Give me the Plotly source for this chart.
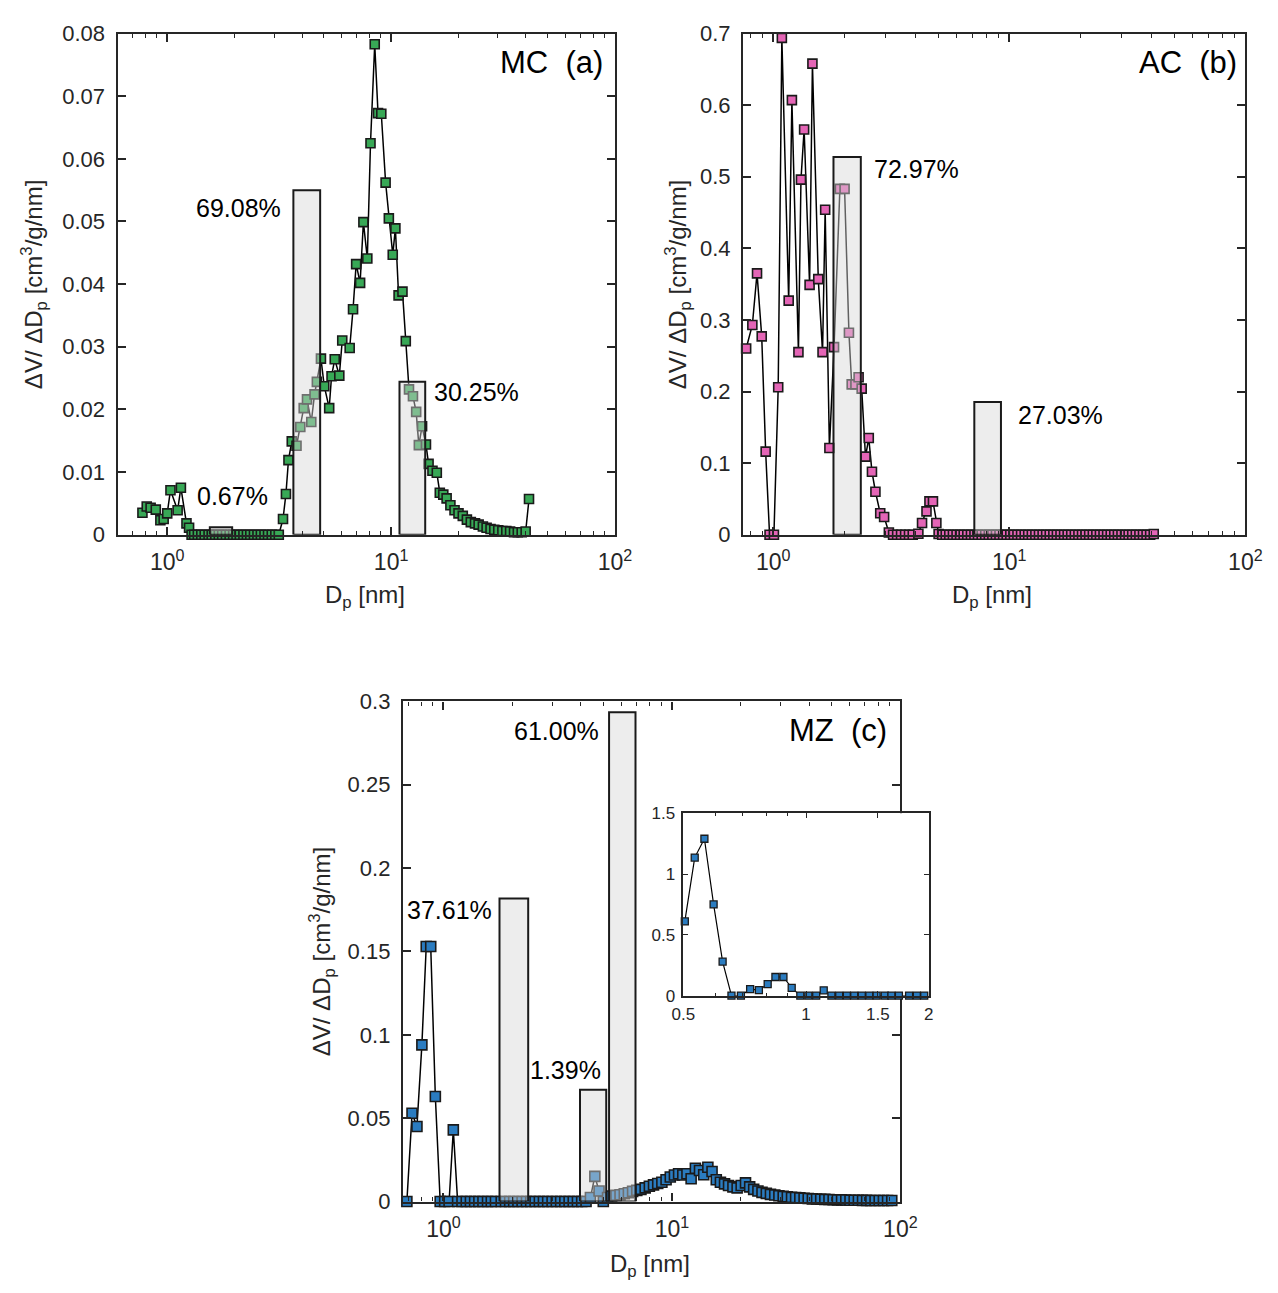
import math
import plotly.graph_objects as go

W, H = 1278, 1293

# ---------------- data ----------------
# MC (a)
mc_dp = [0.775, 0.81, 0.843, 0.889, 0.932, 0.964, 1.0, 1.034, 1.113, 1.151, 1.219, 1.252, 1.285,
         1.32, 1.37, 1.42, 1.47, 1.53, 1.58, 1.64, 1.70, 1.76, 1.83,
         1.90, 1.97, 2.04, 2.11, 2.19, 2.27, 2.35, 2.44, 2.53, 2.62,
         2.72, 2.82, 2.93, 3.04, 3.15,
         3.29, 3.39, 3.48, 3.60, 3.78, 3.93, 4.07, 4.21, 4.40, 4.55,
         4.66, 4.86, 5.03, 5.29, 5.42, 5.60, 5.87, 6.05, 6.53, 6.76,
         6.98, 7.27, 7.52, 7.83, 8.09, 8.45, 8.74, 9.04, 9.45, 9.77,
         10.17, 10.45, 10.8, 11.24, 11.63, 12.02, 12.52, 12.94, 13.3, 13.75,
         14.31, 14.7, 15.3, 16.0, 16.5, 17.1, 17.7, 18.4, 19.2, 20.0,
         20.9, 21.8, 22.7, 23.7, 24.6, 25.7, 26.7, 27.8, 28.9, 30.1,
         31.4, 32.7, 34.0, 35.4, 36.8, 38.3, 39.9, 41.3]
mc_dv = [0.0035, 0.0045, 0.0043, 0.0040, 0.0023, 0.0025, 0.0034, 0.0071, 0.0039, 0.0075, 0.0018, 0.0011, 0.0,
         0.0, 0.0, 0.0, 0.0, 0.0, 0.0, 0.0, 0.0, 0.0, 0.0,
         0.0, 0.0, 0.0, 0.0, 0.0, 0.0, 0.0, 0.0, 0.0, 0.0,
         0.0, 0.0, 0.0, 0.0, 0.0,
         0.0025, 0.0065, 0.0119, 0.0149, 0.0142, 0.0172, 0.0202, 0.0216, 0.0180, 0.0224,
         0.0244, 0.0281, 0.0237, 0.0202, 0.0253, 0.0280, 0.0254, 0.0310, 0.0298, 0.0360,
         0.0432, 0.0402, 0.0499, 0.0441, 0.0625, 0.0783, 0.0673, 0.0672, 0.0562, 0.0505,
         0.0447, 0.0489, 0.0382, 0.0388, 0.0309, 0.0232, 0.0221, 0.0196, 0.0143, 0.0173,
         0.0144, 0.0113, 0.0102, 0.0099, 0.0067, 0.0064, 0.0058, 0.0047, 0.0039, 0.0034,
         0.0030, 0.0024, 0.0020, 0.0018, 0.0016, 0.0013, 0.0011, 0.0009, 0.0008, 0.0007,
         0.0006, 0.0006, 0.0005, 0.0004, 0.0004, 0.0004, 0.0005, 0.0057]
mc_bar_left = [1.55, 3.66, 10.9]
mc_bar_right = [1.95, 4.82, 14.2]
mc_bar_height = [0.0012, 0.055, 0.0244]
mc_bar_labels = ["0.67%", "69.08%", "30.25%"]

# AC (b)
ac_dp = [0.768, 0.816, 0.854, 0.894, 0.929, 0.965, 1.007, 1.05, 1.088, 1.163,
         1.20, 1.279, 1.311, 1.352, 1.426, 1.466, 1.552, 1.618, 1.66, 1.73,
         1.81, 1.916, 2.006, 2.093, 2.15, 2.23, 2.30, 2.37, 2.46, 2.54,
         2.62, 2.71, 2.84, 2.95, 3.09,
         3.22, 3.35, 3.48, 3.62, 3.76, 3.90,
         4.12, 4.27, 4.46, 4.59, 4.75, 4.91, 5.02,
         5.2, 5.38, 5.57, 5.77, 5.98, 6.19, 6.41, 6.64, 6.88, 7.12,
         7.37, 7.64, 7.91, 8.19, 8.48, 8.78, 9.09, 9.42, 9.75, 10.1,
         10.46, 10.83, 11.22, 11.62, 12.03, 12.46, 12.9, 13.36, 13.84, 14.33,
         14.84, 15.37, 15.91, 16.48, 17.07, 17.67, 18.3, 18.95, 19.63, 20.33,
         21.05, 21.8, 22.58, 23.38, 24.21, 25.07, 25.97, 26.89, 27.85, 28.84,
         29.87, 30.93, 32.03, 33.17, 34.35, 35.58, 36.84, 38.16, 39.51, 40.92]
ac_dv = [0.260, 0.293, 0.365, 0.277, 0.116, 0.0, 0.0, 0.206, 0.694, 0.327,
         0.607, 0.255, 0.496, 0.566, 0.349, 0.658, 0.357, 0.255, 0.454, 0.121,
         0.262, 0.483, 0.483, 0.282, 0.210, 0.210, 0.220, 0.204, 0.109, 0.135,
         0.088, 0.060, 0.030, 0.0247, 0.003,
         0.0, 0.0, 0.0, 0.0, 0.0, 0.0,
         0.0014, 0.0163, 0.0326, 0.0465, 0.0465, 0.0163, 0.001,
         0.0, 0.0, 0.0, 0.0, 0.0, 0.0, 0.0, 0.0, 0.0, 0.0,
         0.0, 0.0, 0.0, 0.0, 0.0, 0.0, 0.0, 0.0, 0.0, 0.0,
         0.0, 0.0, 0.0, 0.0, 0.0, 0.0, 0.0, 0.0, 0.0, 0.0,
         0.0, 0.0, 0.0, 0.0, 0.0, 0.0, 0.0, 0.0, 0.0, 0.0,
         0.0, 0.0, 0.0, 0.0, 0.0, 0.0, 0.0, 0.0, 0.0, 0.0,
         0.0, 0.0, 0.0, 0.0, 0.0, 0.0, 0.0, 0.0, 0.0, 0.001]
ac_bar_left = [1.80, 7.11]
ac_bar_right = [2.35, 9.22]
ac_bar_height = [0.5275, 0.1855]
ac_bar_labels = ["72.97%", "27.03%"]

# MZ (c)
mz_dp = [0.504, 0.533, 0.563, 0.593, 0.624, 0.656, 0.692, 0.729, 0.766, 0.805,
         0.841, 0.880, 0.922, 0.968, 1.013, 1.059, 1.105,
         1.154, 1.206, 1.259, 1.313, 1.37, 1.43, 1.49, 1.56, 1.62, 1.69,
         1.79, 1.87, 1.95, 2.03, 2.12, 2.21, 2.31, 2.41, 2.52, 2.63,
         2.74, 2.86, 2.99, 3.12, 3.26, 3.40, 3.55, 3.70, 3.86, 4.03,
         4.21,
         4.40, 4.60, 4.80, 5.01, 5.23, 5.45, 5.69, 5.93, 6.19, 6.45,
         6.73, 7.02, 7.32, 7.64, 7.97, 8.31, 8.67, 9.04, 9.43, 9.84,
         10.26, 10.7, 11.16, 11.64, 12.14, 12.67, 13.21, 13.78, 14.37, 14.99,
         15.64, 16.31, 17.0, 17.7, 18.5, 19.3, 20.1, 21.0, 21.9, 22.8,
         23.8, 24.8, 25.9, 27.0, 28.2, 29.4, 30.7, 32.0, 33.4, 34.8,
         36.3, 37.9, 39.5, 41.2, 43.0, 44.8, 46.7, 48.7, 50.8, 53.0,
         55.3, 57.7, 60.2, 62.8, 65.5, 68.3, 71.2, 74.3, 77.5, 80.8,
         84.3, 87.9, 91.7]
mz_dv = [0.61, 1.135, 1.29, 0.75, 0.28, 0.0, 0.0, 0.053, 0.045, 0.094,
         0.153, 0.153, 0.063, 0.0, 0.0, 0.0, 0.043,
         0.0, 0.0, 0.0, 0.0, 0.0, 0.0, 0.0, 0.0, 0.0, 0.0,
         0.0, 0.0, 0.0, 0.0, 0.0, 0.0, 0.0, 0.0, 0.0, 0.0,
         0.0, 0.0, 0.0, 0.0, 0.0, 0.0, 0.0, 0.0, 0.0, 0.0,
         0.0,
         0.0024, 0.0151, 0.0063, 0.0, 0.0024, 0.0033, 0.0037, 0.0041, 0.0047, 0.0053,
         0.0061, 0.0067, 0.0073, 0.0082, 0.0092, 0.0100, 0.0108, 0.0116, 0.0131, 0.0147,
         0.0159, 0.0167, 0.0159, 0.0167, 0.0137, 0.0200, 0.0186, 0.0161, 0.0206, 0.0180,
         0.0131, 0.0116, 0.0106, 0.0096, 0.0088, 0.0082, 0.0096, 0.0112, 0.0088, 0.0073,
         0.0063, 0.0055, 0.0049, 0.0043, 0.0039, 0.0035, 0.0031, 0.0029, 0.0025, 0.0024,
         0.0022, 0.0020, 0.0018, 0.0016, 0.0015, 0.0014, 0.0013, 0.0012, 0.0011, 0.0010,
         0.0010, 0.0009, 0.0008, 0.0008, 0.0008, 0.0007, 0.0007, 0.0006, 0.0006, 0.0006,
         0.0006, 0.0006, 0.0006]
mz_bar_left = [1.76, 3.96, 5.31]
mz_bar_right = [2.35, 5.16, 6.93]
mz_bar_height = [0.1818, 0.067, 0.2935]
mz_bar_labels = ["37.61%", "1.39%", "61.00%"]

# ticks
log_major = [1, 10, 100]
log_major_text = ["10<sup>0</sup>", "10<sup>1</sup>", "10<sup>2</sup>"]
log_minor = [0.6, 0.7, 0.8, 0.9, 2, 3, 4, 5, 6, 7, 8, 9, 20, 30, 40, 50, 60, 70, 80, 90]
mc_yticks = [0, 0.01, 0.02, 0.03, 0.04, 0.05, 0.06, 0.07, 0.08]
ac_yticks = [0, 0.1, 0.2, 0.3, 0.4, 0.5, 0.6, 0.7]
mz_yticks = [0, 0.05, 0.1, 0.15, 0.2, 0.25, 0.3]
inset_xticks = [0.5, 1, 1.5, 2]
inset_xminor = [0.6, 0.7, 0.8, 0.9]
inset_yticks = [0, 0.5, 1, 1.5]

for a, b in [(mc_dp, mc_dv), (ac_dp, ac_dv), (mz_dp, mz_dv)]:
    assert len(a) == len(b), (len(a), len(b))

# ---------------- styling ----------------
AX = "#262626"
FONT = "Liberation Sans, Arial, Helvetica, sans-serif"
EDGE = "#1a1a1a"
BAR_FILL = "rgba(214,214,214,0.45)"
GREEN = "#38a856"
PINK = "#e465b6"
BLUE = "#2b7cc0"


def px(x):
    return x / W


def py(y):
    return 1 - y / H


fig = go.Figure()


def add_series(xs, ys, color, xa, ya, size, lw=1.5, mlw=1.6):
    fig.add_trace(go.Scatter(
        x=xs, y=ys, mode="lines+markers", xaxis=xa, yaxis=ya,
        line=dict(color="black", width=lw),
        marker=dict(symbol="square", size=size, color=color,
                    line=dict(color=EDGE, width=mlw)),
        cliponaxis=False, showlegend=False, hoverinfo="skip"))


def add_bars(lefts, rights, heights, xa, ya):
    for l, r, h in zip(lefts, rights, heights):
        fig.add_trace(go.Scatter(
            x=[l, l, r, r, l], y=[0, h, h, 0, 0], mode="lines",
            fill="toself", fillcolor=BAR_FILL,
            line=dict(color=EDGE, width=2), xaxis=xa, yaxis=ya,
            showlegend=False, hoverinfo="skip"))


# (a)
add_series(mc_dp, mc_dv, GREEN, "x", "y", 9)
add_bars(mc_bar_left, mc_bar_right, mc_bar_height, "x", "y")
# (b)
add_series(ac_dp, ac_dv, PINK, "x2", "y2", 9)
add_bars(ac_bar_left, ac_bar_right, ac_bar_height, "x2", "y2")
# (c) main: only points inside the visible range
mz_xmin = 0.665
mz_main = [(d, v) for d, v in zip(mz_dp, mz_dv) if d >= mz_xmin]
add_series([p[0] for p in mz_main], [p[1] for p in mz_main], BLUE, "x3", "y3", 10)
add_bars(mz_bar_left, mz_bar_right, mz_bar_height, "x3", "y3")
# inset
mz_in = [(d, v) for d, v in zip(mz_dp, mz_dv) if 0.5 <= d <= 2]
add_series([p[0] for p in mz_in], [p[1] for p in mz_in], BLUE, "x4", "y4", 7, lw=1.2, mlw=1.3)


def xlog(domain, xmin, anchor, fs=23):
    return dict(type="log", domain=domain, range=[math.log10(xmin), 2], anchor=anchor,
                showline=True, linecolor=AX, linewidth=2.2, mirror="ticks",
                ticks="inside", ticklen=8, tickwidth=1.5, tickcolor=AX,
                tickmode="array", tickvals=log_major, ticktext=log_major_text,
                minor=dict(tickmode="array", tickvals=log_minor, ticks="inside",
                           ticklen=4, tickwidth=1.2, tickcolor=AX, showgrid=False),
                tickfont=dict(family=FONT, size=fs, color=AX),
                showgrid=False, zeroline=False, ticklabelstandoff=6)


def ylin(domain, top, ticks, anchor, fs=22):
    return dict(domain=domain, range=[0, top], anchor=anchor,
                showline=True, linecolor=AX, linewidth=2.2, mirror="ticks",
                ticks="inside", ticklen=8, tickwidth=1.5, tickcolor=AX,
                tickmode="array", tickvals=ticks, ticktext=[f"{t:g}" for t in ticks],
                tickfont=dict(family=FONT, size=fs, color=AX),
                showgrid=False, zeroline=False, ticklabelstandoff=6)


fig.update_layout(
    width=W, height=H, margin=dict(l=0, r=0, t=0, b=0),
    paper_bgcolor="white", plot_bgcolor="white", showlegend=False,
    font=dict(family=FONT, color="black"),
    xaxis=xlog([px(108), px(617)], 0.6, "y"),
    yaxis=ylin([py(533), py(22)], 0.08, mc_yticks, "x"),
    xaxis2=xlog([px(748), px(1262)], 0.745, "y2"),
    yaxis2=ylin([py(533), py(22)], 0.7, ac_yticks, "x2"),
    xaxis3=xlog([px(400), px(909)], mz_xmin, "y3"),
    yaxis3=ylin([py(1213), py(703)], 0.3, mz_yticks, "x3"),
    xaxis4=dict(type="log", domain=[px(687), px(938)], range=[math.log10(0.5), math.log10(2)],
                anchor="y4", showline=True, linecolor=AX, linewidth=1.6, mirror="ticks",
                ticks="inside", ticklen=5, tickwidth=1, tickcolor=AX,
                tickmode="array", tickvals=inset_xticks, ticktext=[f"{t:g}" for t in inset_xticks],
                minor=dict(tickmode="array", tickvals=inset_xminor, ticks="inside",
                           ticklen=3, tickwidth=1, tickcolor=AX, showgrid=False),
                tickfont=dict(family=FONT, size=17, color=AX),
                showgrid=False, zeroline=False, ticklabelstandoff=2),
    yaxis4=dict(domain=[py(1003), py(817)], range=[0, 1.5], anchor="x4",
                showline=True, linecolor=AX, linewidth=1.6, mirror="ticks",
                ticks="inside", ticklen=5, tickwidth=1, tickcolor=AX,
                tickmode="array", tickvals=inset_yticks, ticktext=[f"{t:g}" for t in inset_yticks],
                tickfont=dict(family=FONT, size=17, color=AX),
                showgrid=False, zeroline=False, ticklabelstandoff=3),
)

ann = []
YT = "ΔV/ ΔD<sub>p</sub> [cm<sup>3</sup>/g/nm]"
XT = "D<sub>p</sub> [nm]"
for (x, y) in [(22, 278), (681, 278), (318, 958)]:
    ann.append(dict(text=YT, x=px(x), y=py(y), xref="paper", yref="paper", textangle=-90,
                    showarrow=False, xanchor="center", yanchor="middle",
                    font=dict(family=FONT, size=24, color=AX)))
for (x, y) in [(361, 596), (1003, 596), (653, 1278)]:
    ann.append(dict(text=XT, x=px(x), y=py(y), xref="paper", yref="paper",
                    showarrow=False, xanchor="center", yanchor="middle",
                    font=dict(family=FONT, size=24, color=AX)))
# panel labels
for (t, x, y) in [("MC\u00a0\u00a0(a)", 607, 52), ("AC\u00a0\u00a0(b)", 1255, 52), ("MZ\u00a0\u00a0(c)", 897, 733)]:
    ann.append(dict(text=t, x=px(x), y=py(y), xref="paper", yref="paper",
                    showarrow=False, xanchor="right", yanchor="middle",
                    font=dict(family=FONT, size=31, color="black")))
# percentage labels
pct_pos = [
    (mc_bar_labels[0], 187, 494, "left"), (mc_bar_labels[1], 277, 200, "right"),
    (mc_bar_labels[2], 430, 387, "left"),
    (ac_bar_labels[0], 880, 160, "left"), (ac_bar_labels[1], 1027, 411, "left"),
    (mz_bar_labels[0], 493, 916, "right"), (mz_bar_labels[1], 605, 1079, "right"),
    (mz_bar_labels[2], 603, 733, "right"),
]
for (t, x, y, anc) in pct_pos:
    ann.append(dict(text=t, x=px(x), y=py(y), xref="paper", yref="paper",
                    showarrow=False, xanchor=anc, yanchor="middle",
                    font=dict(family=FONT, size=25, color="black")))
fig.update_layout(annotations=ann)

fig.write_html("out.html")
